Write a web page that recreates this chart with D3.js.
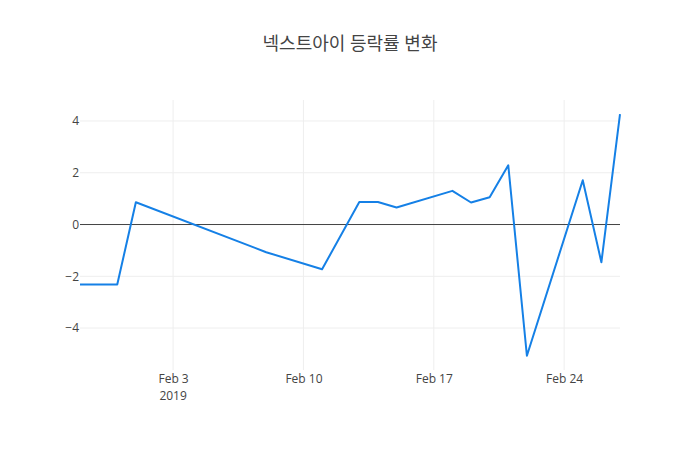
<!DOCTYPE html>
<html>
<head>
<meta charset="utf-8">
<script src="https://cdn.jsdelivr.net/npm/d3@7"></script>
<style>
  body { margin: 0; background: #fff; }
  svg { display: block; }
  .tick text, .year { font-family: "Open Sans", "Noto Sans", sans-serif; font-size: 12px; fill: #444; }
</style>
</head>
<body>
<svg id="chart"></svg>
<script>
// trading days and daily change rate (%)
const dates = [
  '2019-01-29', '2019-01-30', '2019-01-31', '2019-02-01', '2019-02-08',
  '2019-02-11', '2019-02-13', '2019-02-14', '2019-02-15', '2019-02-18',
  '2019-02-19', '2019-02-20', '2019-02-21', '2019-02-22', '2019-02-25',
  '2019-02-26', '2019-02-27'
];
const rates = [
  -2.32, -2.32, -2.32, 0.86, -1.07,
  -1.73, 0.87, 0.87, 0.66, 1.30,
  0.85, 1.05, 2.29, -5.07, 1.71,
  -1.46, 4.26
];
const yTicks = [-4, -2, 0, 2, 4];
const xTicks = ['2019-02-03', '2019-02-10', '2019-02-17', '2019-02-24'];
const title = '넥스트아이 등락률 변화';

const width = 700, height = 450;
const margin = { top: 100, right: 80, bottom: 80, left: 80 };
const parse = d3.utcParse('%Y-%m-%d');

const data = dates.map((d, i) => ({ date: parse(d), value: rates[i] }));

const svg = d3.select('#chart')
  .attr('width', width)
  .attr('height', height);

const x = d3.scaleUtc()
  .domain(d3.extent(data, d => d.date))
  .range([margin.left, width - margin.right]);

// autorange with a little padding, like plotly
const [lo, hi] = d3.extent(rates);
const pad = (hi - lo) * 0.059;
const y = d3.scaleLinear()
  .domain([lo - pad, hi + pad])
  .range([height - margin.bottom, margin.top]);

// grid
svg.append('g')
  .selectAll('line')
  .data(xTicks.map(parse))
  .join('line')
  .attr('x1', d => x(d)).attr('x2', d => x(d))
  .attr('y1', margin.top).attr('y2', height - margin.bottom)
  .attr('stroke', '#eee');

svg.append('g')
  .selectAll('line')
  .data(yTicks.filter(d => d !== 0))
  .join('line')
  .attr('x1', margin.left).attr('x2', width - margin.right)
  .attr('y1', d => y(d)).attr('y2', d => y(d))
  .attr('stroke', '#eee');

// zero line
svg.append('line')
  .attr('x1', margin.left).attr('x2', width - margin.right)
  .attr('y1', y(0)).attr('y2', y(0))
  .attr('stroke', '#444')
  .attr('stroke-width', 1);

// y axis
const yAxis = svg.append('g')
  .attr('transform', `translate(${margin.left},0)`)
  .call(d3.axisLeft(y).tickValues(yTicks).tickSize(0).tickPadding(1)
    .tickFormat(d => d < 0 ? '\u2212' + Math.abs(d) : d));
yAxis.select('.domain').remove();

// x axis
const fmt = d3.utcFormat('%b %-d');
const xAxis = svg.append('g')
  .attr('transform', `translate(0,${height - margin.bottom})`)
  .call(d3.axisBottom(x).tickValues(xTicks.map(parse)).tickSize(0).tickPadding(4)
    .tickFormat(fmt));
xAxis.select('.domain').remove();

// year under the first tick
const firstTick = parse(xTicks[0]);
svg.append('text')
  .attr('class', 'year')
  .attr('x', x(firstTick))
  .attr('y', height - margin.bottom + 30)
  .attr('text-anchor', 'middle')
  .text(firstTick.getUTCFullYear());

// line
const line = d3.line()
  .x(d => x(d.date))
  .y(d => y(d.value));

svg.append('path')
  .datum(data)
  .attr('fill', 'none')
  .attr('stroke', '#1580e6')
  .attr('stroke-width', 2)
  .attr('stroke-linejoin', 'round')
  .attr('d', line);

// title
svg.append('text')
  .attr('x', width / 2)
  .attr('y', 50)
  .attr('text-anchor', 'middle')
  .style('font-family', '"Open Sans", "Noto Sans CJK KR", sans-serif')
  .style('font-size', '18px')
  .style('fill', '#444')
  .text(title);
</script>
</body>
</html>
